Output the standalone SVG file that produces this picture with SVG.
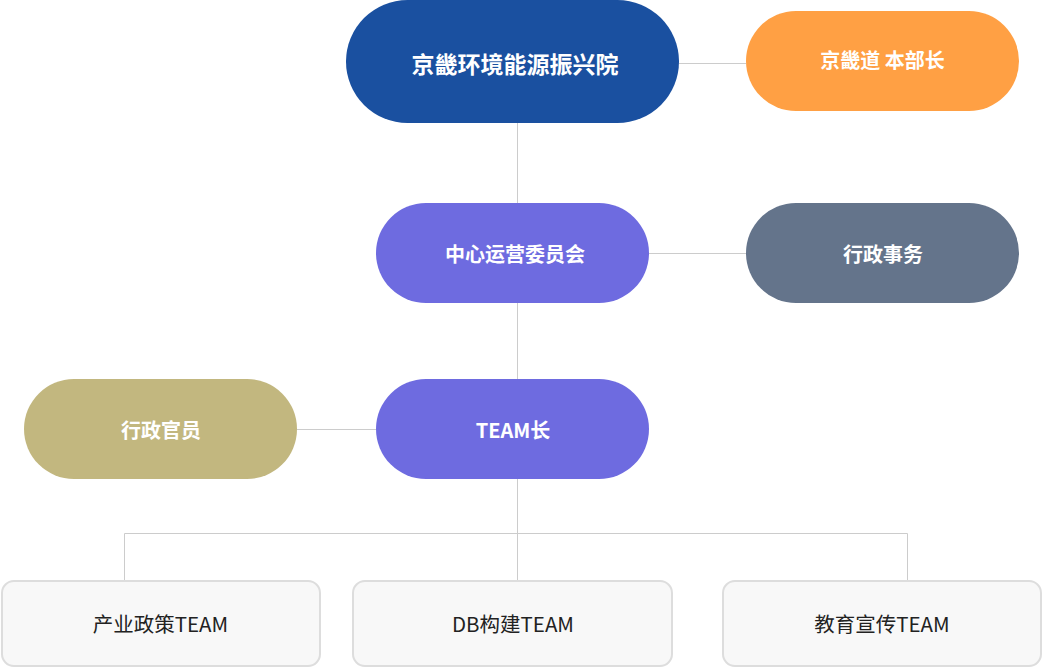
<svg xmlns="http://www.w3.org/2000/svg" width="1043" height="667" viewBox="0 0 1043 667">
<style>
.lbl{font-family:"Noto Sans CJK SC","Noto Sans",sans-serif;fill:#fff;font-weight:700;text-anchor:middle;dominant-baseline:central}
.team{font-family:"Noto Sans CJK SC","Noto Sans",sans-serif;fill:#222;font-weight:400;font-size:20.5px;text-anchor:middle;dominant-baseline:central}
.box{fill:#f8f8f8;stroke:#dddddd;stroke-width:2}
.ln{stroke:#cccccc;stroke-width:1;fill:none}
</style>
<rect width="1043" height="667" fill="#fff"/>
<g id="connectors">
<line class="ln" x1="679" y1="63.5" x2="746" y2="63.5"/>
<line class="ln" x1="649" y1="253.5" x2="746" y2="253.5"/>
<line class="ln" x1="297" y1="429.5" x2="376" y2="429.5"/>
<line class="ln" x1="517.5" y1="123" x2="517.5" y2="203"/>
<line class="ln" x1="517.5" y1="303" x2="517.5" y2="379"/>
<line class="ln" x1="517.5" y1="479" x2="517.5" y2="580"/>
<polyline class="ln" points="124.5,580 124.5,533.5 907.5,533.5 907.5,580"/>
</g>
<g id="node-top">
<rect x="346" y="0" width="333" height="123" rx="61.5" fill="#1a50a0"/>
<text class="lbl" x="515" y="63" font-size="23">京畿环境能源振兴院</text>
</g>
<g id="node-hq">
<rect x="746" y="11" width="273" height="100" rx="50" fill="#ffa044"/>
<text class="lbl" x="882.5" y="59" font-size="20">京畿道 本部长</text>
</g>
<g id="node-committee">
<rect x="376" y="203" width="273" height="100" rx="50" fill="#6e6be0"/>
<text class="lbl" x="515" y="253" font-size="20">中心运营委员会</text>
</g>
<g id="node-admin">
<rect x="746" y="203" width="273" height="100" rx="50" fill="#64748b"/>
<text class="lbl" x="883" y="253" font-size="20">行政事务</text>
</g>
<g id="node-officer">
<rect x="24" y="379" width="273" height="100" rx="50" fill="#c2b77f"/>
<text class="lbl" x="161" y="429" font-size="20">行政官员</text>
</g>
<g id="node-leader">
<rect x="376" y="379" width="273" height="100" rx="50" fill="#6e6be0"/>
<text class="lbl" x="513" y="429" font-size="20">TEAM长</text>
</g>
<g id="team-1">
<rect class="box" x="2" y="581" width="318" height="85" rx="12"/>
<text class="team" x="160.5" y="623">产业政策TEAM</text>
</g>
<g id="team-2">
<rect class="box" x="353" y="581" width="319" height="85" rx="12"/>
<text class="team" x="513" y="623">DB构建TEAM</text>
</g>
<g id="team-3">
<rect class="box" x="723" y="581" width="318" height="85" rx="12"/>
<text class="team" x="882" y="623">教育宣传TEAM</text>
</g>
</svg>
